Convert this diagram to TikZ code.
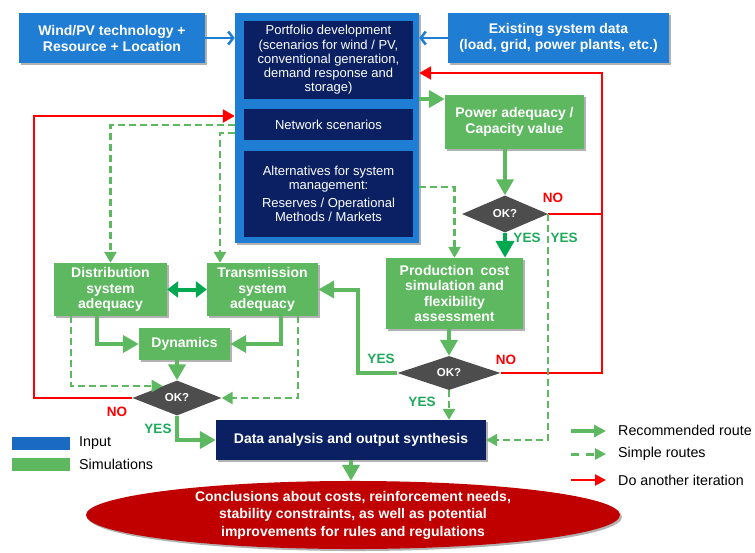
\documentclass[tikz,border=0pt]{standalone}
\usepackage{fontspec}
\setmainfont{Liberation Sans}
\usetikzlibrary{arrows.meta,shapes.geometric,shadows}
\definecolor{blu}{HTML}{1F7DD3}
\definecolor{legblu}{HTML}{1A6AC4}
\definecolor{navy}{HTML}{0A2063}
\definecolor{grn}{HTML}{5DB85F}
\definecolor{dkgrn}{HTML}{00A850}
\definecolor{yesgrn}{HTML}{1DAA5A}
\definecolor{ddgray}{HTML}{4D4D4D}
\definecolor{conclred}{HTML}{C00000}
\definecolor{nored}{HTML}{FF0000}
\begin{document}
\begin{tikzpicture}[x=1pt,y=-1pt,
  shad/.style={drop shadow={shadow xshift=2pt,shadow yshift=-2pt,opacity=0.3,fill=black}},
  inbox/.style={rectangle,fill=blu,text=white,font=\fontsize{14}{16}\selectfont\bfseries,align=center,inner sep=0pt,shad},
  navbox/.style={rectangle,fill=navy,text=white,font=\fontsize{13}{14.2}\selectfont,align=center,inner sep=0pt},
  simbox/.style={rectangle,fill=grn,text=white,font=\fontsize{14}{15.5}\selectfont\bfseries,align=center,inner sep=0pt,shad},
  okd/.style={diamond,aspect=2.4,fill=ddgray,text=white,font=\fontsize{11.5}{13}\selectfont\bfseries,inner sep=0pt},
  yeslab/.style={text=yesgrn,font=\fontsize{13.5}{15}\selectfont\bfseries,inner sep=0pt},
  nolab/.style={text=nored,font=\fontsize{13.5}{15}\selectfont\bfseries,inner sep=0pt},
  leglab/.style={anchor=west,font=\fontsize{14.3}{16}\selectfont,inner sep=0pt},
  greenarr/.style={draw=grn,line width=4pt,-{Triangle[length=16pt,width=17pt]}},
  dkarr/.style={draw=dkgrn,line width=4.5pt,-{Triangle[length=17pt,width=18pt]}},
  dasharr/.style={draw=grn,line width=2.5pt,dash pattern=on 7pt off 4pt,-{Triangle[length=11pt,width=12pt]}},
  redarr/.style={draw=nored,line width=2.5pt,-{Triangle[length=12pt,width=13pt]}},
  redline/.style={draw=nored,line width=2.5pt},
  bluearr/.style={draw=blu,line width=2.5pt,-{Straight Barb[length=5pt,width=13pt]}}
]
\useasboundingbox (0,0) rectangle (755,552);

% input boxes
\node[inbox,minimum width=186,minimum height=50] (wind) at (112,38) {Wind/PV technology +\\Resource + Location};
\node[inbox,minimum width=221,minimum height=50] (exist) at (558.5,38) {Existing system data\\(load, grid, power plants, etc.)};
\node[rectangle,fill=blu,minimum width=184,minimum height=230,inner sep=0pt,shad] (big) at (327,128) {};
\node[navbox,minimum width=169,minimum height=78] (portf) at (328.5,60) {Portfolio development\\(scenarios for wind / PV,\\conventional generation,\\demand response and\\storage)};
\node[navbox,minimum width=169,minimum height=31] (netw) at (328.5,124.5) {Network scenarios};
\node[navbox,minimum width=169,minimum height=86] (alt) at (328.5,194) {Alternatives for system\\management:\\[4pt]Reserves / Operational\\Methods / Markets};

% simulation boxes
\node[simbox,minimum width=139,minimum height=54] (pow) at (514.5,122) {Power adequacy /\\[1pt]Capacity value};
\node[simbox,minimum width=137,minimum height=71] (prod) at (454.5,293.5) {Production\enspace cost\\simulation and\\flexibility\\assessment};
\node[simbox,minimum width=113,minimum height=53] (dist) at (110.5,289.5) {Distribution\\system\\adequacy};
\node[simbox,minimum width=111,minimum height=53] (trans) at (262.5,289.5) {Transmission\\system\\adequacy};
\node[simbox,minimum width=91,minimum height=32] (dyn) at (184.5,344) {Dynamics};

% decisions
\node[okd,minimum width=86,minimum height=37] (d1) at (505,214) {OK?};
\node[okd,minimum width=103,minimum height=34] (d2) at (449,373) {OK?};
\node[okd,minimum width=89,minimum height=35] (d3) at (177,398) {OK?};

% output
\node[rectangle,fill=navy,text=white,font=\fontsize{14}{16}\selectfont\bfseries,minimum width=270,minimum height=40,inner sep=0pt,shad] (data) at (351,440) {Data analysis and output synthesis};
\node[ellipse,fill=conclred,text=white,font=\fontsize{14}{17.5}\selectfont\bfseries,align=center,minimum width=534,minimum height=66,inner sep=0pt,shad] (concl) at (353,515) {Conclusions about costs, reinforcement needs,\\stability constraints, as well as potential\\improvements for rules and regulations};

% blue input arrows
\draw[bluearr] (wind.east) -- (big.west |- wind.east);
\draw[bluearr] (exist.west) -- (big.east |- exist.west);

% red iteration routes
\draw[redline] (d1.east) -- (602,0 |- d1.east);
\draw[redarr] (d2.east) -- (602,0 |- d2.east) -- (602,73) -- (big.east |- 0,73);
\draw[redarr] (d3.west) -- (34,0 |- d3.west) -- (34,116) -- (big.west |- 0,116);

% recommended routes
\draw[greenarr] (big.east |- 0,99) -- (pow.west |- 0,99);
\draw[greenarr] (d1.north |- pow.south) -- (d1.north);
\draw[dkarr] (d1.south) -- (d1.south |- prod.north);
\draw[greenarr] (d2.north |- prod.south) -- (d2.north);
\draw[greenarr] (d2.west) -- (358,0 |- d2.west) |- (trans.east);
\draw[draw=dkgrn,line width=4pt,{Triangle[length=11pt,width=16pt]}-{Triangle[length=11pt,width=16pt]}] (dist.east) -- (trans.west);
\draw[greenarr] (97,0 |- dist.south) |- (dyn.west);
\draw[greenarr] (281,0 |- trans.south) |- (dyn.east);
\draw[greenarr] (dyn.south -| d3.north) -- (d3.north);
\draw[greenarr] (d3.south) |- (data.west);
\draw[greenarr] (data.south) -- (data.south |- concl.north);

% simple routes
\draw[dasharr] (big.west |- 0,125) -| (dist.north);
\draw[dasharr] (big.west |- 0,133) -| (220,0 |- trans.north);
\draw[dasharr] (big.east |- 0,187) -| (prod.north);
\draw[dasharr] (d1.east) |- (data.east);
\draw[dasharr] (d2.south) -- (d2.south |- data.north);
\draw[dasharr] (71,0 |- dist.south) |- (d3.140);
\draw[dasharr] (298,0 |- trans.south) |- (d3.east);

% labels
\node[nolab] (no1) at (553,198) {NO};
\node[yeslab] (yes1a) at (527,238) {YES};
\node[yeslab] (yes1b) at (564,238) {YES};
\node[nolab] (no2) at (506,360) {NO};
\node[yeslab] (yes2a) at (381,359) {YES};
\node[yeslab] (yes2b) at (422,402) {YES};
\node[nolab] (no3) at (117,412) {NO};
\node[yeslab] (yes3) at (158,429) {YES};

% legend left
\node[rectangle,fill=legblu,minimum width=58,minimum height=13,inner sep=0pt] (legin) at (41,443.5) {};
\node[rectangle,fill=grn,minimum width=58,minimum height=13,inner sep=0pt] (legsim) at (41,464.5) {};
\node[leglab] (legintxt) at (79,443) {Input};
\node[leglab] (legsimtxt) at (79,464) {Simulations};

% legend right
\coordinate (la1) at (571,431); \coordinate (lb1) at (606,431);
\coordinate (la2) at (571,454); \coordinate (lb2) at (606,454);
\coordinate (la3) at (571,480); \coordinate (lb3) at (606,480);
\draw[draw=grn,line width=3.5pt,-{Triangle[length=12pt,width=12pt]}] (la1) -- (lb1);
\draw[draw=grn,line width=3pt,dash pattern=on 8pt off 7pt,-{Triangle[length=11pt,width=11pt]}] (la2) -- (lb2);
\draw[draw=nored,line width=2.5pt,-{Triangle[length=11pt,width=11pt]}] (la3) -- (lb3);
\node[leglab] (lt1) at (618,430) {Recommended route};
\node[leglab] (lt2) at (618,454) {Simple routes};
\node[leglab] (lt3) at (618,480) {Do another iteration};
\end{tikzpicture}
\end{document}
